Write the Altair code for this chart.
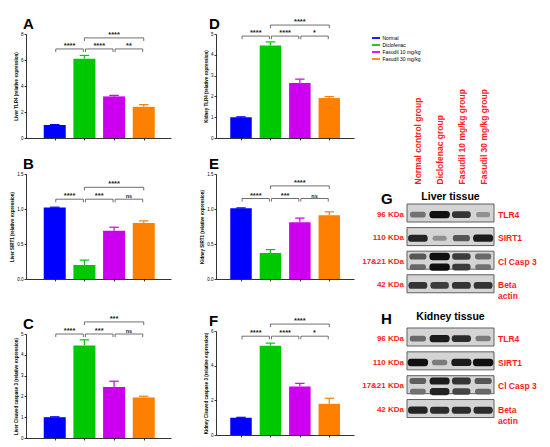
import altair as alt
import pandas as pd

FONT = "Liberation Sans"
RED = "#ff1a1a"

groups = ["Normal", "Diclofenac", "Fasudil 10 mg/kg", "Fasudil 30 mg/kg"]
group_colors = ["#0000ff", "#00c800", "#cc00ee", "#ff8000"]
pairs = [[0, 1], [1, 2], [2, 3], [1, 3]]
pair_levels = ["low", "low", "low", "high"]

# A - Liver TLR4
liver_tlr4_mean = [1.0, 6.1, 3.2, 2.4]
liver_tlr4_sem = [0.03, 0.25, 0.08, 0.17]
liver_tlr4_sig = ["****", "****", "**", "****"]
liver_tlr4_brackets = [6.85, 7.7]
# B - Liver SIRT1
liver_sirt1_mean = [1.02, 0.20, 0.69, 0.80]
liver_sirt1_sem = [0.006, 0.07, 0.05, 0.03]
liver_sirt1_sig = ["****", "***", "ns", "****"]
liver_sirt1_brackets = [1.14, 1.31]
# C - Liver cleaved caspase 3
liver_casp3_mean = [1.0, 4.45, 2.45, 1.95]
liver_casp3_sem = [0.02, 0.27, 0.28, 0.06]
liver_casp3_sig = ["****", "***", "ns", "***"]
liver_casp3_brackets = [5.0, 5.58]
# D - Kidney TLR4
kidney_tlr4_mean = [1.0, 4.45, 2.65, 1.92]
kidney_tlr4_sem = [0.02, 0.17, 0.18, 0.07]
kidney_tlr4_sig = ["****", "****", "*", "****"]
kidney_tlr4_brackets = [4.9, 5.43]
# E - Kidney SIRT1
kidney_sirt1_mean = [1.01, 0.37, 0.81, 0.91]
kidney_sirt1_sem = [0.006, 0.05, 0.06, 0.05]
kidney_sirt1_sig = ["****", "***", "ns", "****"]
kidney_sirt1_brackets = [1.15, 1.33]
# F - Kidney cleaved caspase 3
kidney_casp3_mean = [1.0, 5.15, 2.8, 1.8]
kidney_casp3_sem = [0.02, 0.15, 0.18, 0.32]
kidney_casp3_sig = ["****", "****", "*", "****"]
kidney_casp3_brackets = [5.7, 6.4]

# Western blots (relative band darkness 0..1)
proteins = ["TLR4", "SIRT1", "Cl Casp 3", "Beta actin"]
protein_kda = ["96 KDa", "110 KDa", "17&21 KDa", "42 KDa"]
protein_names = ["TLR4", "SIRT1", "Cl Casp 3", "Beta\nactin"]
lane_labels = ["Normal control group", "Diclofenac group",
               "Fasudil 10 mg/kg group", "Fasudil 30 mg/kg group"]
liver_tlr4_band = [0.45, 1.0, 0.8, 0.3]
liver_sirt1_band = [0.9, 0.3, 0.6, 0.95]
liver_casp21_band = [0.6, 1.0, 0.75, 0.5]
liver_casp17_band = [0.5, 1.0, 0.75, 0.45]
liver_actin_band = [0.8, 0.75, 0.8, 0.8]
kidney_tlr4_band = [0.5, 0.95, 0.85, 0.4]
kidney_sirt1_band = [1.0, 0.4, 0.95, 1.0]
kidney_casp21_band = [0.55, 0.95, 0.8, 0.6]
kidney_casp17_band = [0.45, 0.9, 0.7, 0.5]
kidney_actin_band = [0.9, 0.85, 0.85, 0.85]

BAND_PATH = ("M-0.7,-0.36L0.7,-0.36Q1,-0.36 1,0Q1,0.36 0.7,0.36"
             "L-0.7,0.36Q-1,0.36 -1,0Q-1,-0.36 -0.7,-0.36Z")

legend = alt.Legend(
    title=None, orient="none", legendX=346, legendY=0,
    symbolType="M-1.13,-0.25L1.13,-0.25L1.13,0.25L-1.13,0.25Z", symbolSize=50,
    symbolStrokeWidth=0, labelFontSize=5, labelFont=FONT, rowPadding=0,
    labelOffset=2.5, padding=0,
)
color_enc = alt.Color("group:N", scale=alt.Scale(domain=groups, range=group_colors), legend=legend)


def bar_panel(letter, ytitle, means, sems, sigs, heights, ymax, yticks, yfmt,
              width, height, xdom, barsize, letter_dx):
    df = pd.DataFrame({"idx": list(range(4)), "group": groups, "mean": means, "sem": sems})
    br = pd.DataFrame({
        "a": [p[0] for p in pairs], "b": [p[1] for p in pairs],
        "level": pair_levels, "label": sigs,
        "h": [heights[1] if lv == "high" else heights[0] for lv in pair_levels],
    })
    xscale = alt.Scale(domain=xdom, nice=False, zero=False)
    yscale = alt.Scale(domain=[0, ymax], nice=False)
    xaxis = alt.Axis(values=[0, 1, 2, 3], labels=False, title=None, tickSize=2, grid=False)
    yaxis = alt.Axis(values=yticks, format=yfmt, title=ytitle, grid=False, tickSize=2,
                     labelFontSize=4.5, titleFontSize=4.5, titleFontWeight="bold",
                     labelPadding=1, titlePadding=2)

    def X(f):
        return alt.X(f, scale=xscale, axis=xaxis)

    def Y(f):
        return alt.Y(f, scale=yscale, axis=yaxis)

    base = alt.Chart(df)
    bars = base.mark_bar(size=barsize, strokeWidth=0).encode(x=X("idx:Q"), y=Y("mean:Q"), color=color_enc)
    err = base.transform_calculate(top="datum.mean + datum.sem").mark_rule(strokeWidth=1.2).encode(
        x=X("idx:Q"), y=Y("mean:Q"), y2="top:Q", color=color_enc)
    cap = base.transform_calculate(
        top="datum.mean + datum.sem", cl="datum.idx - 0.16", cr="datum.idx + 0.16"
    ).mark_rule(strokeWidth=1.2).encode(x=X("cl:Q"), x2="cr:Q", y=Y("top:Q"), color=color_enc)

    gap = "(datum.level == 'low' ? 0.035 : 0)"
    bb = alt.Chart(br).transform_calculate(
        xa=f"datum.a + {gap}", xb=f"datum.b - {gap}", xm="(datum.a + datum.b) / 2",
        hb=f"datum.h - {ymax * 0.03}")
    hline = bb.mark_rule(color="#333333", strokeWidth=0.7).encode(x=X("xa:Q"), x2="xb:Q", y=Y("h:Q"))
    hticks = bb.transform_fold(["xa", "xb"], as_=["end", "xe"]).mark_rule(
        color="#333333", strokeWidth=0.7).encode(x=X("xe:Q"), y=Y("h:Q"), y2="hb:Q")
    stars = bb.mark_text(baseline="alphabetic", dy=-1, fontWeight="bold", color="#222222").encode(
        x=X("xm:Q"), y=Y("h:Q"), text="label:N",
        size=alt.condition("datum.label == 'ns'", alt.value(5.5), alt.value(7.5)))
    let = alt.Chart(pd.DataFrame({"t": [letter]})).mark_text(
        align="left", baseline="middle", fontSize=15, fontWeight="bold", color="black").encode(
        x=alt.value(letter_dx), y=alt.value(-10), text="t:N")

    return alt.layer(bars, err, cap, hline, hticks, stars, let).properties(width=width, height=height)


def blot_df(tlr4, sirt1, casp21, casp17, actin):
    recs = []
    for prot, sub, vals in [("TLR4", "mid", tlr4), ("SIRT1", "mid", sirt1),
                            ("Cl Casp 3", "upper", casp21), ("Cl Casp 3", "lower", casp17),
                            ("Beta actin", "mid", actin)]:
        for i, v in enumerate(vals):
            recs.append({"protein": prot, "sub": sub, "lane": i, "level": v})
    return pd.DataFrame(recs)


rows_df = pd.DataFrame({"protein": proteins, "kda": protein_kda, "name": protein_names})
lane_expr = "[" + ",".join("'" + s + "'" for s in lane_labels) + "][datum.value]"


def blot_panel(letter, tissue, df, width, height, show_lanes, letter_dy, tissue_dy):
    xscale = alt.Scale(domain=[-0.5, 3.5], nice=False, zero=False)
    yscale = alt.Scale(domain=proteins, paddingInner=0.1, paddingOuter=0)
    if show_lanes:
        xaxis = alt.Axis(orient="top", values=[0, 1, 2, 3], labelExpr=lane_expr, labelAngle=270,
                         labelAlign="left", labelBaseline="middle", labelColor=RED,
                         labelFontSize=8.5, labelFontWeight="bold", labelPadding=20,
                         domain=False, ticks=False, title=None, grid=False)
    else:
        xaxis = None
    strips = alt.Chart(rows_df).mark_rect(fill="#d4d4d4", stroke="#5f5f5f", strokeWidth=1).encode(
        x=alt.X(datum=-0.5, scale=xscale, axis=xaxis), x2=alt.datum(3.5),
        y=alt.Y("protein:N", scale=yscale, axis=None))
    bands = alt.Chart(df).mark_point(shape=BAND_PATH, filled=True, strokeWidth=0, opacity=0.95).encode(
        x=alt.X("lane:Q", scale=xscale, axis=xaxis),
        y=alt.Y("protein:N", scale=yscale, axis=None),
        yOffset=alt.YOffset("sub:N", scale=alt.Scale(domain=["upper", "mid", "lower"],
                                                      paddingOuter=1, paddingInner=0)),
        fill=alt.Fill("level:Q", scale=alt.Scale(domain=[0, 1], range=["#cdcdcd", "#050505"]), legend=None),
        size=alt.Size("level:Q", scale=alt.Scale(domain=[0, 1], range=[110, 420]), legend=None),
    )
    kda = alt.Chart(rows_df).mark_text(align="right", baseline="middle", dx=-3, color=RED,
                                       fontSize=8, fontWeight="bold").encode(
        x=alt.value(0), y=alt.Y("protein:N", scale=yscale, axis=None), text="kda:N")
    names = alt.Chart(rows_df).mark_text(align="left", baseline="middle", dx=4, color=RED,
                                         fontSize=8.5, fontWeight="bold", lineBreak="\n").encode(
        x=alt.value(width), y=alt.Y("protein:N", scale=yscale, axis=None), text="name:N")
    let = alt.Chart(pd.DataFrame({"t": [letter]})).mark_text(
        align="left", baseline="middle", fontSize=15, fontWeight="bold", color="black").encode(
        x=alt.value(-26), y=alt.value(letter_dy), text="t:N")
    tis = alt.Chart(pd.DataFrame({"t": [tissue]})).mark_text(
        align="center", baseline="middle", fontSize=10.5, fontWeight="bold", color="black").encode(
        x=alt.value(width / 2), y=alt.value(tissue_dy), text="t:N")
    return alt.layer(strips, bands, kda, names, let, tis).properties(width=width, height=height)


LX = [-0.8, 3.75]
MX = [-0.68, 3.67]
A = bar_panel("A", "Liver TLR4 (relative expression)", liver_tlr4_mean, liver_tlr4_sem,
              liver_tlr4_sig, liver_tlr4_brackets, 8, [0, 2, 4, 6, 8], "d", 145, 104, LX, 22, -3)
B = bar_panel("B", "Liver SIRT1 (relative expression)", liver_sirt1_mean, liver_sirt1_sem,
              liver_sirt1_sig, liver_sirt1_brackets, 1.5, [0, 0.5, 1.0, 1.5], ".1f", 145, 105, LX, 22, -3)
C = bar_panel("C", "Liver Cleaved caspase 3 (relative expression)", liver_casp3_mean, liver_casp3_sem,
              liver_casp3_sig, liver_casp3_brackets, 5, [0, 1, 2, 3, 4, 5], "d", 145, 104, LX, 22, -3)
D = bar_panel("D", "Kidney TLR4 (relative expression)", kidney_tlr4_mean, kidney_tlr4_sem,
              kidney_tlr4_sig, kidney_tlr4_brackets, 5, [0, 1, 2, 3, 4, 5], "d", 138, 104, MX, 21.5, -7)
E = bar_panel("E", "Kidney SIRT1 (relative expression)", kidney_sirt1_mean, kidney_sirt1_sem,
              kidney_sirt1_sig, kidney_sirt1_brackets, 1.5, [0, 0.5, 1.0, 1.5], ".1f", 138, 105, MX, 21.5, -7)
F = bar_panel("F", "Kidney Cleaved caspase 3 (relative expression)", kidney_casp3_mean, kidney_casp3_sem,
              kidney_casp3_sig, kidney_casp3_brackets, 6, [0, 2, 4, 6], "d", 138, 104, MX, 21.5, -7)

G = blot_panel("G", "Liver tissue",
               blot_df(liver_tlr4_band, liver_sirt1_band, liver_casp21_band, liver_casp17_band, liver_actin_band),
               87, 92, True, -5, -7)
H = blot_panel("H", "Kidney tissue",
               blot_df(kidney_tlr4_band, kidney_sirt1_band, kidney_casp21_band, kidney_casp17_band, kidney_actin_band),
               87, 93, False, -9, -11)

spacer = alt.Chart(pd.DataFrame({"v": [0]})).mark_point(opacity=0).encode(
    x=alt.X("v:Q", axis=None), y=alt.Y("v:Q", axis=None)).properties(width=87, height=44)


def res(c):
    return c.resolve_scale(x="independent", y="independent", color="shared")


col1 = res(alt.vconcat(res(alt.vconcat(A, B, spacing=16)), C, spacing=32))
col2 = res(alt.vconcat(res(alt.vconcat(D, E, spacing=16)), F, spacing=32))
col3 = res(alt.vconcat(spacer, res(alt.vconcat(G, H, spacing=11)), spacing=10))

chart = res(alt.hconcat(res(alt.hconcat(col1, col2, spacing=28)), col3, spacing=8)).properties(
    padding={"left": 1, "top": 9, "right": 0, "bottom": 0}
).configure(font=FONT).configure_view(strokeWidth=0).configure_axis(
    domainColor="black", tickColor="black", labelColor="black", titleColor="black",
    domainWidth=0.8, tickWidth=0.8, labelFont=FONT, titleFont=FONT,
).configure_concat(spacing=10)

chart.save("out.html", embed_options={"renderer": "svg", "actions": False})
